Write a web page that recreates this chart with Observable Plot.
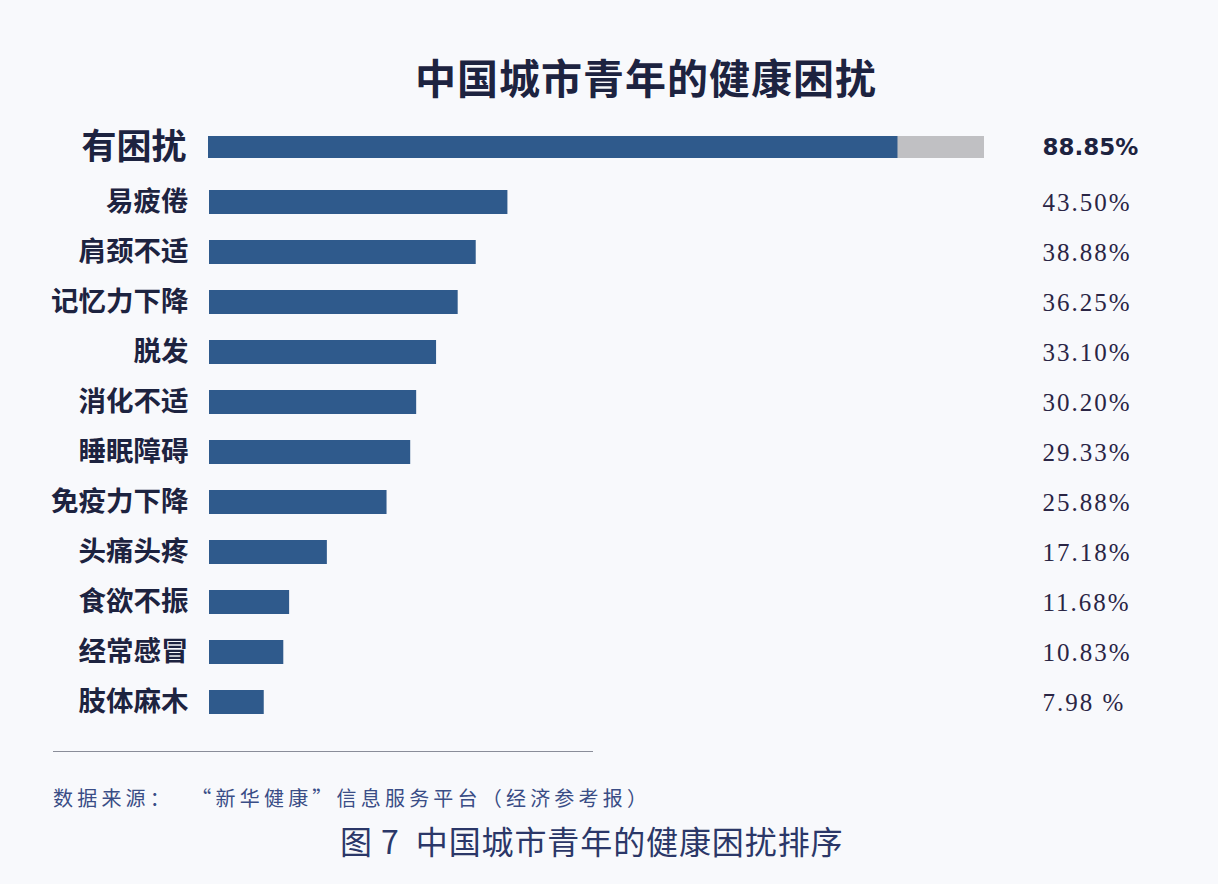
<!DOCTYPE html>
<html>
<head>
<meta charset="utf-8">
<script src="https://cdn.jsdelivr.net/npm/d3@7"></script>
<script src="https://cdn.jsdelivr.net/npm/@observablehq/plot@0.6"></script>
<style>
  html, body { margin: 0; padding: 0; }
  body { width: 1218px; height: 884px; background: #f8f9fc; position: relative; overflow: hidden;
         font-family: "Noto Sans CJK SC", "Noto Sans", sans-serif; }
  .abs { position: absolute; }
  #title { left: 0; width: 1292px; top: 46px; text-align: center; font-size: 41px; font-weight: 700; color: #1d2340; letter-spacing: 1px; }
  #rule { left: 53px; top: 751px; width: 540px; height: 0; border-top: 1.5px solid #8a8d99; }
  #source { left: 53px; top: 783px; font-size: 20px; color: #3a4d86; letter-spacing: 4.2px; white-space: pre; }
  #caption { left: 340px; top: 817px; font-size: 32px; color: #2b3768; letter-spacing: 0.9px; white-space: pre; }
</style>
</head>
<body>
<div id="title" class="abs">中国城市青年的健康困扰</div>
<div id="top" class="abs" style="left:0;top:117px"></div>
<div id="rest" class="abs" style="left:0;top:177px"></div>
<div id="rule" class="abs"></div>
<div id="source" class="abs">数据来源：  “新华健康”信息服务平台（经济参考报）</div>
<div id="caption" class="abs">图 7  中国城市青年的健康困扰排序</div>
<script>
// ---- data ----
const topCategory = ["有困扰"];
const topValues = [88.85];
const topLabels = ["88.85%"];

const categories = ["易疲倦", "肩颈不适", "记忆力下降", "脱发", "消化不适", "睡眠障碍", "免疫力下降", "头痛头疼", "食欲不振", "经常感冒", "肢体麻木"];
const values = [43.50, 38.88, 36.25, 33.10, 30.20, 29.33, 25.88, 17.18, 11.68, 10.83, 7.98];
const valueLabels = ["43.50%", "38.88%", "36.25%", "33.10%", "30.20%", "29.33%", "25.88%", "17.18%", "11.68%", "10.83%", "7.98 %"];

const blue = "#2f5a8c";
const grey = "#c0c0c3";
const ink = "#1d2340";
const cjk = "Noto Sans CJK SC, sans-serif";

const topData = topCategory.map((c, i) => ({c, v: topValues[i], label: topLabels[i], full: 100}));
const restData = categories.map((c, i) => ({c, v: values[i], label: valueLabels[i]}));

// ---- top bar ----
const p1 = Plot.plot({
  width: 1218, height: 60,
  marginLeft: 208, marginRight: 234, marginTop: 0, marginBottom: 0,
  style: {background: "transparent", overflow: "visible"},
  x: {domain: [0, 100], axis: null},
  y: {domain: topCategory, paddingInner: 0.633, paddingOuter: 0.3167, label: null},
  marks: [
    Plot.barX(topData, {x: "full", y: "c", fill: grey}),
    Plot.barX(topData, {x: "v", y: "c", fill: blue}),
    Plot.axisY({tickSize: 0, tickPadding: 22, fontSize: 35, fontWeight: "bold", fontFamily: cjk, fill: ink, label: null}),
    Plot.text(topData, {y: "c", text: "label", frameAnchor: "right", dx: 58, textAnchor: "start",
      fontSize: 23, fontWeight: "bold", fontFamily: "DejaVu Sans, sans-serif", fill: ink})
  ]
});
document.getElementById("top").append(p1);

// ---- remaining bars ----
const p2 = Plot.plot({
  width: 1218, height: 550,
  marginLeft: 209, marginRight: 323, marginTop: 0, marginBottom: 0,
  style: {background: "transparent", overflow: "visible"},
  x: {domain: [0, 100], axis: null},
  y: {domain: categories, paddingInner: 0.52, paddingOuter: 0.26, label: null},
  marks: [
    Plot.barX(restData, {x: "v", y: "c", fill: blue}),
    Plot.axisY({tickSize: 0, tickPadding: 21, fontSize: 27.5, fontWeight: "bold", fontFamily: cjk, fill: ink, label: null}),
    Plot.text(restData, {y: "c", text: "label", frameAnchor: "right", dx: 147, textAnchor: "start",
      fontSize: 25, fontFamily: "Liberation Serif, serif", fill: "#2a2545"})
  ]
});
p2.querySelectorAll("text").forEach(t => { if (/%/.test(t.textContent)) t.setAttribute("letter-spacing", "2"); });
document.getElementById("rest").append(p2);
</script>
</body>
</html>
